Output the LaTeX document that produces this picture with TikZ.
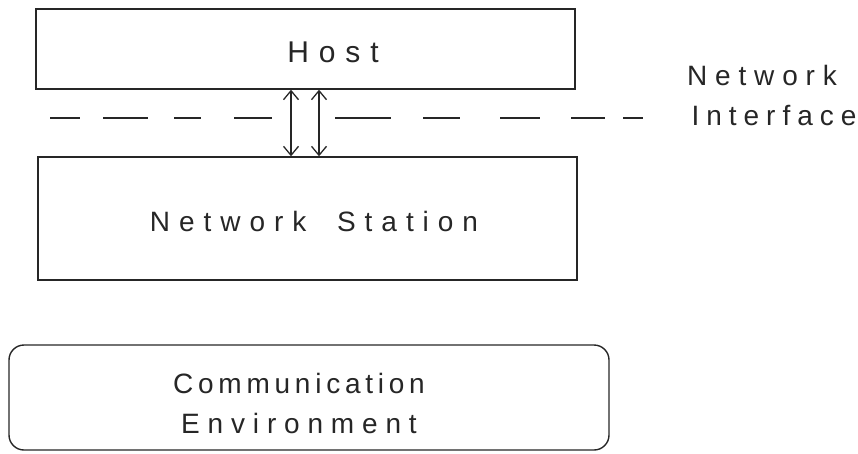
\documentclass[tikz,border=0pt]{standalone}
\usepackage{fontspec}
\setmainfont{Liberation Sans}
\usetikzlibrary{arrows.meta}
\definecolor{ink}{HTML}{262626}
\tikzset{
    box/.style = {draw = ink, line width = 1.4pt, inner sep = 0pt},
    envbox/.style = {box, rounded corners = 15pt, align = center},
    lbl/.style = {text = ink, inner sep = 0pt, font = \fontsize{28}{40}\selectfont},
    iface arrow/.style = {draw = ink, line width = 1.3pt,
        {Straight Barb[length = 9pt, width = 15pt]}-{Straight Barb[length = 9pt, width = 15pt]}},
    iface dash/.style = {draw = ink, line width = 1.3pt}
}
\begin{document}
\begin{tikzpicture}[x = 1pt, y = -1pt]
    \useasboundingbox (0, 0) rectangle (858, 453);

    % the two stacked boxes
    \node (host)    [box, minimum width = 539pt, minimum height = 80pt]  at (305.5, 49)  {};
    \node (station) [box, minimum width = 539pt, minimum height = 123pt] at (307.5, 218.5) {};
    \node (env)     [envbox, minimum width = 600pt, minimum height = 105pt] at (309, 397.5) {};

    \node (hostlbl) [lbl, font = \fontsize{30}{36}\selectfont\addfontfeature{LetterSpace = 33}]
        at (333, 52) {Host};
    \node (stationlbl) [lbl, font = \fontsize{28}{34}\selectfont\addfontfeature{LetterSpace = 32}]
        at (314, 221) {Network\hspace{14pt} Station};
    \node (envlbl) [lbl, align = center] at (299, 403)
        {{\addfontfeature{LetterSpace = 17}Communication}\\
         {\addfontfeature{LetterSpace = 28}Environment}};

    % interface between host and station
    \foreach \a/\b in {50/80, 103/148, 174/201, 234/272,
                       335/391, 423/460, 500/540, 571/605, 623/643}
        \draw[iface dash] (\a, 118) -- (\b, 118);

    \draw[iface arrow] ([xshift = -14.5pt]host.south) -- ([xshift = -16.5pt]station.north);
    \draw[iface arrow] ([xshift = 13.5pt]host.south)  -- ([xshift = 11.5pt]station.north);

    \node (ifacelbl1) [lbl, font = \fontsize{28}{34}\selectfont\addfontfeature{LetterSpace = 28}]
        at (762, 75) {Network};
    \node (ifacelbl2) [lbl, font = \fontsize{28}{34}\selectfont\addfontfeature{LetterSpace = 25}]
        at (774, 116) {Interface};
\end{tikzpicture}
\end{document}
